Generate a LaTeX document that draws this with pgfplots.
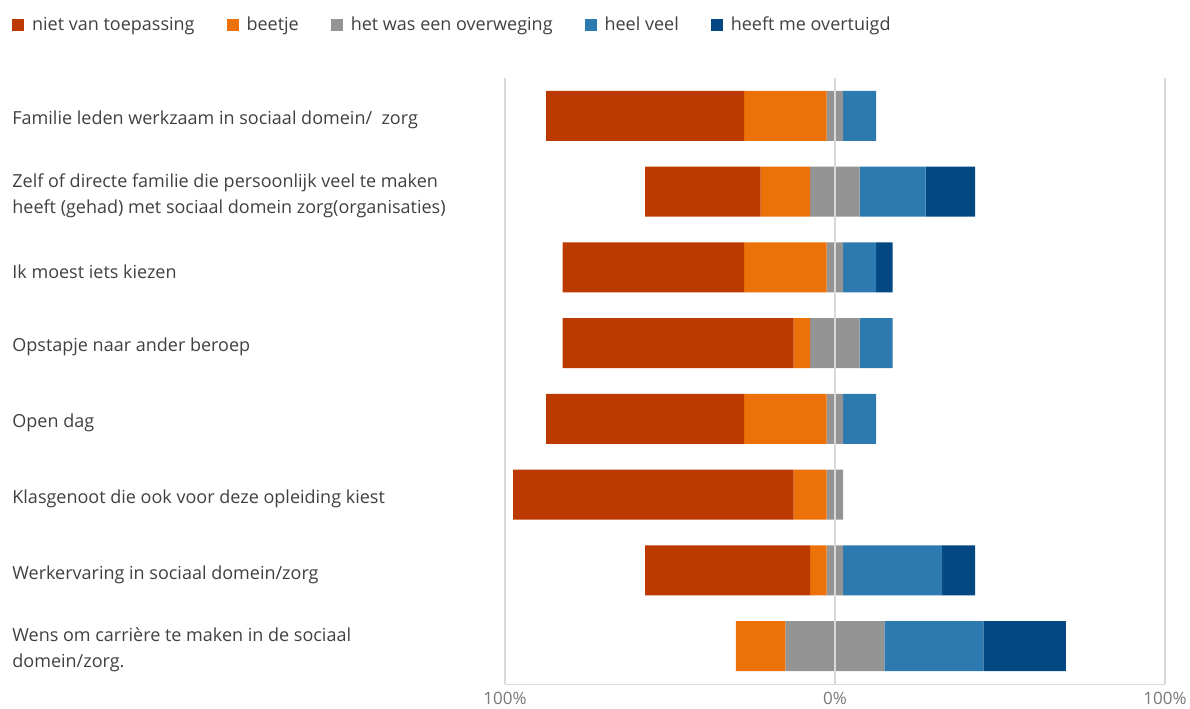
\documentclass[border=0pt]{standalone}
\usepackage{fontspec}
\setmainfont{Open Sans}
\usepackage{pgfplots}
\usepackage{pgfplotstable}
\pgfplotsset{compat=1.18}

\definecolor{cRed}{RGB}{188,58,0}
\definecolor{cOrange}{RGB}{235,113,8}
\definecolor{cGray}{RGB}{148,148,148}
\definecolor{cBlue}{RGB}{44,122,176}
\definecolor{cDark}{RGB}{3,72,131}
\definecolor{txt}{RGB}{64,64,64}
\definecolor{ticktxt}{RGB}{120,120,120}
\definecolor{gridc}{RGB}{217,217,217}

% off = start of the bar (neutral share split over zero)
\pgfplotstableread{
cat off   red orange gray blue dark
0   -87.5 60  25     5    10   0
1   -57.5 35  15     15   20   15
2   -82.5 55  25     5    10   5
3   -82.5 70  5      15   10   0
4   -87.5 60  25     5    10   0
5   -97.5 85  10     5    0    0
6   -57.5 50  5      5    30   10
7   -30   0   15     30   30   25
}\data

\begin{document}
\begin{tikzpicture}
\path[use as bounding box] (0,0) rectangle (595pt,354pt);
\begin{axis}[
    at={(252.5pt,12pt)}, anchor=south west,
    scale only axis,
    width=330pt, height=303pt,
    xbar stacked,
    stack negative=on previous,
    bar width=25pt,
    xmin=-100, xmax=100,
    ymin=-0.5, ymax=7.5,
    y dir=reverse,
    axis x line*=bottom,
    axis y line*=left,
    x axis line style={draw=gridc, -},
    y axis line style={draw=none},
    xtick={-100,0,100},
    xticklabels={100\%,0\%,100\%},
    xtick style={draw=none},
    xmajorgrids,
    grid style={draw=gridc, line width=0.6pt},
    axis on top,
    xticklabel style={font=\fontsize{8.5}{10}\selectfont, text=ticktxt, inner sep=0pt, yshift=-4pt},
    ytick={0,...,7},
    ytick style={draw=none},
    yticklabels={
      {Familie leden werkzaam in sociaal domein/\ \ zorg},
      {Zelf of directe familie die persoonlijk veel te maken\\heeft (gehad) met sociaal domein zorg(organisaties)},
      {Ik moest iets kiezen},
      {Opstapje naar ander beroep},
      {Open dag},
      {Klasgenoot die ook voor deze opleiding kiest},
      {Werkervaring in sociaal domein/zorg},
      {Wens om carrière te maken in de sociaal\\domein/zorg.}
    },
    yticklabel style={font=\fontsize{9}{13}\selectfont, text=txt, anchor=west, align=left, inner sep=0pt, xshift=-246.5pt, yshift=-2pt},
    legend columns=5,
    legend style={draw=none, fill=none, at={(-0.7474,1.102)}, anchor=north west,
      font=\fontsize{9}{10}\selectfont, text=txt, inner sep=0pt,
      nodes={inner sep=0pt},
      /tikz/every odd column/.append style={column sep=4pt},
      /tikz/every even column/.append style={column sep=16pt}},
    legend image code/.code={\fill[#1] (0pt,-3pt) rectangle (6pt,3pt);},
    every axis plot/.append style={draw=none},
]
\addplot[fill=none, draw=none, forget plot] table[x=off, y=cat] {\data};
\addplot[fill=cRed] table[x=red, y=cat] {\data};
\addplot[fill=cOrange] table[x=orange, y=cat] {\data};
\addplot[fill=cGray] table[x=gray, y=cat] {\data};
\addplot[fill=cBlue] table[x=blue, y=cat] {\data};
\addplot[fill=cDark] table[x=dark, y=cat] {\data};
\legend{niet van toepassing, beetje, het was een overweging, heel veel, heeft me overtuigd}
\end{axis}
\end{tikzpicture}
\end{document}
